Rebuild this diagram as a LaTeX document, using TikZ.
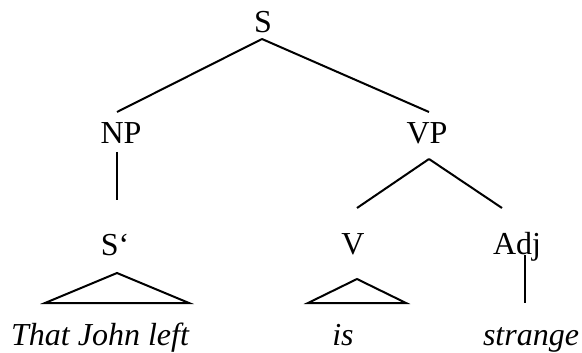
\documentclass[tikz,border=0pt]{standalone}
\usepackage{fontspec}
\setmainfont{Liberation Serif}
\usepackage{tikz}
\tikzstyle{Category}=[inner sep=0pt, anchor=base, font=\fontsize{32}{38}\selectfont, text=black]
\tikzstyle{Word}=[inner sep=0pt, anchor=base, font=\fontsize{32}{38}\selectfont\itshape, text=black]
\tikzstyle{branch}=[line width = 2pt, draw=black]
\pgfdeclarelayer{nodelayer}
\pgfdeclarelayer{edgelayer}
\pgfsetlayers{nodelayer, edgelayer}
\begin{document}
\begin{tikzpicture}[x=1pt, y=-1pt]
	\useasboundingbox (0, 0) rectangle (582, 353);
	\begin{pgfonlayer}{nodelayer}
		\node [style=Category] (s) at (263, 33) {S};
		\node [style=Category] (np) at (121, 143) {NP};
		\node [style=Category] (vp) at (427, 143) {VP};
		\node [style=Category] (sbar) at (115, 255) {S‘};
		\node [style=Category] (v) at (353, 254) {V};
		\node [style=Category] (adj) at (517, 254) {Adj};
		% words
		\node [style=Word] (that_john_left) at (100, 345) {That John left};
		\node [style=Word] (is) at (343, 345) {is};
		\node [style=Word] (strange) at (531, 345) {strange};
		% branch ends
		\coordinate (s_foot) at (262, 39);
		\coordinate (np_head) at (117, 112);
		\coordinate (vp_head) at (429, 112);
		\coordinate (np_foot) at (117, 152);
		\coordinate (sbar_head) at (117, 200);
		\coordinate (vp_foot) at (429, 159);
		\coordinate (v_head) at (357, 208);
		\coordinate (adj_head) at (502, 208);
		\coordinate (sbar_peak) at (117, 273);
		\coordinate (sbar_left) at (45, 303);
		\coordinate (sbar_right) at (189, 303);
		\coordinate (v_peak) at (357, 279);
		\coordinate (v_left) at (308, 303);
		\coordinate (v_right) at (406, 303);
		\coordinate (adj_foot) at (525, 255);
		\coordinate (strange_head) at (525, 303);
	\end{pgfonlayer}
	\begin{pgfonlayer}{edgelayer}
		\draw [style=branch] (s_foot) to (np_head);
		\draw [style=branch] (s_foot) to (vp_head);
		\draw [style=branch] (np_foot) to (sbar_head);
		\draw [style=branch] (vp_foot) to (v_head);
		\draw [style=branch] (vp_foot) to (adj_head);
		\draw [style=branch] (adj_foot) to (strange_head);

		% triangles
		\draw [style=branch] (sbar_peak) -- (sbar_left) -- (sbar_right) -- cycle;
		\draw [style=branch] (v_peak) -- (v_left) -- (v_right) -- cycle;
	\end{pgfonlayer}
\end{tikzpicture}
\end{document}
